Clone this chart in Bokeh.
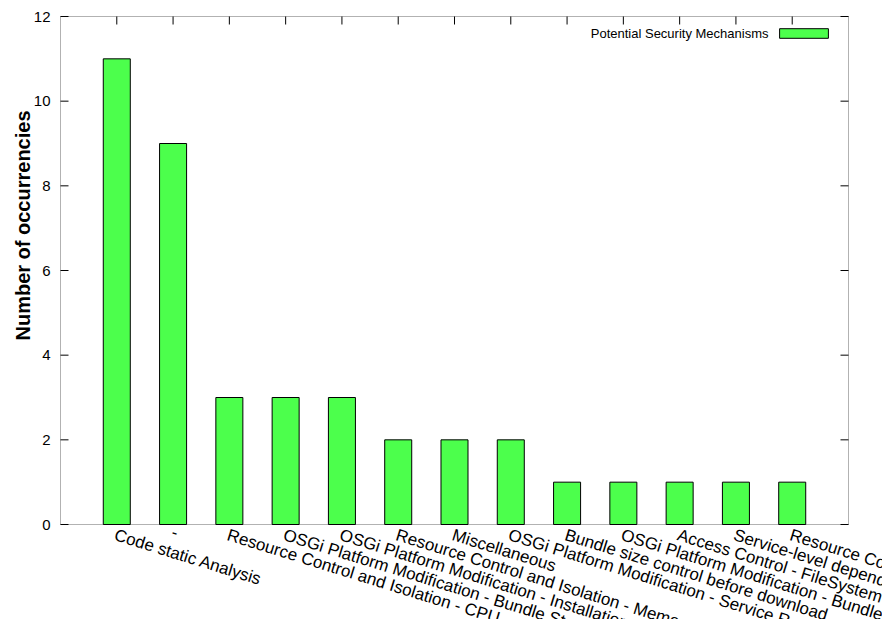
import math
from bokeh.plotting import figure
from bokeh.models import Range1d, Label, Legend, LegendItem, BoxAnnotation
from bokeh.embed import file_html
from bokeh.resources import INLINE
from bokeh.core.properties import value

categories = [
    "Code static Analysis",
    "-",
    "Resource Control and Isolation - CPU",
    "OSGi Platform Modification - Bundle Start",
    "OSGi Platform Modification - Installation - Memory",
    "Resource Control and Isolation - Memory",
    "Miscellaneous",
    "OSGi Platform Modification - Service Registry",
    "Bundle size control before download",
    "OSGi Platform Modification - Bundle Dependencies",
    "Access Control - FileSystem",
    "Service-level dependency validation",
    "Resource Control and Isolation - Disk",
]
counts = [11, 9, 3, 3, 3, 2, 2, 2, 1, 1, 1, 1, 1]
y_ticks = [0, 2, 4, 6, 8, 10, 12]
y_tick_labels = ["0", "2", "4", "6", "8", "10", "12"]
series_name = "Potential Security Mechanisms"
y_title = "Number of occurrencies"

FONT = "Liberation Sans"
positions = list(range(len(categories)))

# layout (pixels in the 882x619 page)
W, H = 882, 619
BOX_L, BOX_T, BOX_R, BOX_B = 60, 16, 848, 524
TICK = 8

# plot-box ranges (gnuplot style: one slot of padding each side)
X0, X1 = -1, len(categories)
Y0, Y1 = 0, 12
kx = (X1 - X0) / (BOX_R - BOX_L)
ky = (Y1 - Y0) / (BOX_B - BOX_T)

# the bokeh frame covers the whole page so that nothing is clipped
p = figure(width=W, height=H, output_backend="svg", toolbar_location=None,
           x_range=Range1d(X0 - BOX_L * kx, X1 + (W - BOX_R) * kx),
           y_range=Range1d(Y0 - (H - BOX_B) * ky, Y1 + BOX_T * ky),
           min_border=0, min_border_left=0, min_border_right=0,
           min_border_top=0, min_border_bottom=0,
           x_axis_location=None, y_axis_location=None)
p.xgrid.grid_line_color = None
p.ygrid.grid_line_color = None
p.outline_line_color = None
p.background_fill_color = "white"
p.border_fill_color = "white"

bars = p.vbar(x=positions, top=counts, width=0.48, fill_color="#4cff4c",
              line_color="black", line_width=1)

# plot box
p.add_layout(BoxAnnotation(left=X0, right=X1, bottom=Y0, top=Y1,
                           fill_alpha=0, fill_color=None,
                           line_color="black", line_width=1))

# inward tick marks (left, right, top)
tx = TICK * kx
ty = TICK * ky
p.segment(x0=[X0] * len(y_ticks), x1=[X0 + tx] * len(y_ticks),
          y0=y_ticks, y1=y_ticks, line_color="black", line_width=1)
p.segment(x0=[X1 - tx] * len(y_ticks), x1=[X1] * len(y_ticks),
          y0=y_ticks, y1=y_ticks, line_color="black", line_width=1)
p.segment(x0=positions, x1=positions, y0=[Y1 - ty] * len(positions),
          y1=[Y1] * len(positions), line_color="black", line_width=1)

# y tick labels
p.text(x=[X0] * len(y_ticks), y=y_ticks, text=y_tick_labels, x_offset=-10,
       text_align="right", text_baseline="middle", text_font=value(FONT),
       text_font_size="15px", text_color="black")

# rotated category labels
p.text(x=positions, y=[Y0] * len(positions), text=categories, y_offset=1,
       x_offset=1, angle=-0.30, text_align="left", text_baseline="top",
       text_font=value(FONT), text_font_size="17px", text_color="black")

# y axis title (screen units from the bottom-left of the page)
p.add_layout(Label(x=22, y=H - 225, x_units="screen", y_units="screen",
                   text=y_title, angle=math.pi / 2, text_align="center",
                   text_baseline="middle", text_font=FONT,
                   text_font_size="20px", text_font_style="bold",
                   text_color="black"))

# legend: text to the left of the sample box
p.add_layout(Label(x=768, y=H - 33, x_units="screen", y_units="screen",
                   text=series_name, text_align="right", text_baseline="middle",
                   text_font=FONT, text_font_size="13px", text_color="black"))
legend = Legend(items=[LegendItem(label=value(" "), renderers=[bars])],
                location=(713 + BOX_L, 485 + (H - BOX_B)),
                glyph_width=61, glyph_height=12,
                label_width=0, label_height=12, label_standoff=0,
                label_text_font_size="1px", padding=0, margin=0, spacing=0,
                border_line_color=None, background_fill_alpha=0)
p.add_layout(legend)

open("out.html", "w").write(file_html(p, INLINE))
